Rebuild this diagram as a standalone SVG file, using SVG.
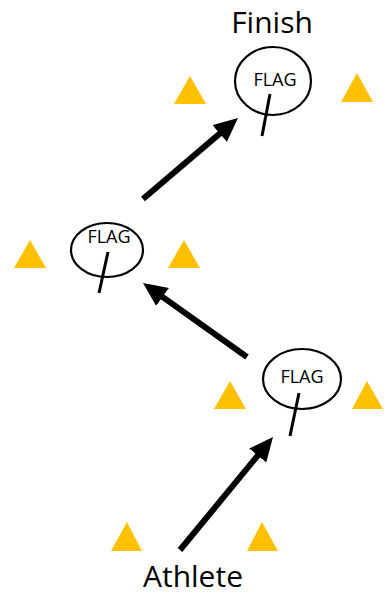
<svg xmlns="http://www.w3.org/2000/svg" width="388" height="595" viewBox="0 0 388 595">
<style>
.flag{fill:#fff;stroke:#000;stroke-width:2.2}
.tick{stroke:#000;stroke-width:3;fill:none}
.cone{fill:#FFC000}
.ft{font-family:"Open Sans","Noto Sans",sans-serif;font-size:18px;fill:#000;text-anchor:middle}
.big{font-family:"Open Sans","Noto Sans",sans-serif;font-size:30px;fill:#000;text-anchor:middle}
.arr{stroke:#000;stroke-width:6;fill:none;marker-end:url(#ah)}
</style>
<defs>
<marker id="ah" markerUnits="userSpaceOnUse" viewBox="0 0 24 22" refX="10" refY="11" markerWidth="24" markerHeight="22" orient="auto">
<path d="M0,0 L24,11 L0,22 Z" fill="#000"/>
</marker>
</defs>
<rect width="388" height="595" fill="#fff"/>
<g id="cones">
<polygon class="cone" points="190,76 174,104 206,104"/>
<polygon class="cone" points="357,73 341,102 373,102"/>
<polygon class="cone" points="30,240 14,268 46,268"/>
<polygon class="cone" points="184,240 168,268 200,268"/>
<polygon class="cone" points="230,381 214,409 246,409"/>
<polygon class="cone" points="367,381 352,409 383,409"/>
<polygon class="cone" points="127,522 111,551 142,551"/>
<polygon class="cone" points="262,522 247,551 278,551"/>
</g>
<g id="finish"><text class="big" x="272" y="33">Finish</text></g>
<g id="athlete"><text class="big" x="193" y="587">Athlete</text></g>
<g id="flag1">
<ellipse class="flag" cx="273" cy="81" rx="38" ry="34"/>
<text class="ft" x="275" y="86">FLAG</text>
<line class="tick" x1="270" y1="94" x2="262" y2="136"/>
</g>
<g id="flag2">
<ellipse class="flag" cx="107" cy="250" rx="36" ry="27"/>
<text class="ft" x="109" y="243">FLAG</text>
<line class="tick" x1="108" y1="252" x2="99" y2="293"/>
</g>
<g id="flag3">
<ellipse class="flag" cx="302" cy="379" rx="39" ry="30"/>
<text class="ft" x="302" y="383">FLAG</text>
<line class="tick" x1="299" y1="393" x2="290" y2="436"/>
</g>
<g id="connectors">
<line class="arr" x1="180" y1="550" x2="264.1" y2="447.8"/>
<line class="arr" x1="247" y1="357" x2="154.4" y2="291.1"/>
<line class="arr" x1="143" y1="199" x2="227.3" y2="127.1"/>
</g>
</svg>
